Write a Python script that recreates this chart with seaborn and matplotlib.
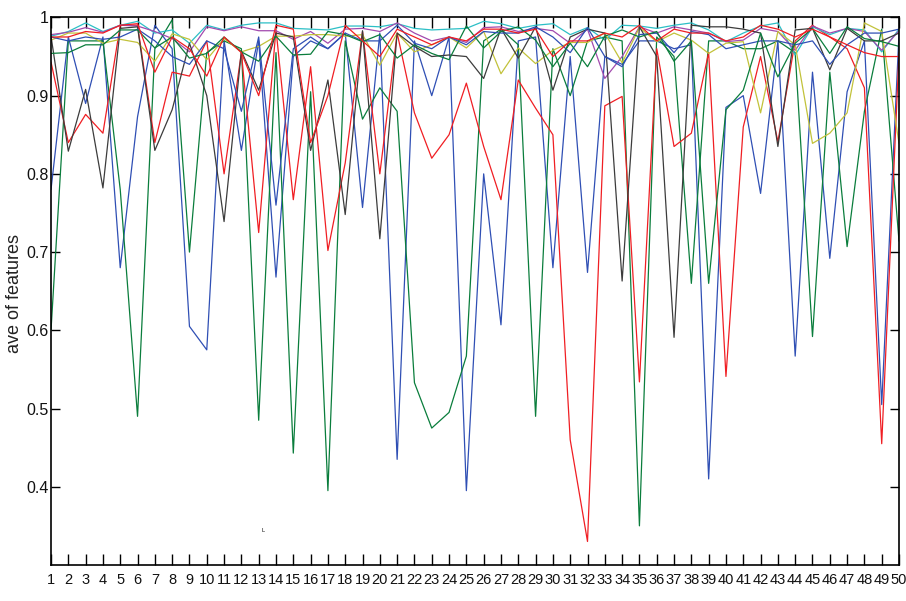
import numpy as np
import pandas as pd
import seaborn as sns
import matplotlib.pyplot as plt

sns.set_theme(style='ticks')
plt.rcParams['font.family'] = ['Liberation Sans', 'DejaVu Sans']

x = list(range(1, 51))

# one list per feature
blue1 = [0.78, 0.975, 0.89, 0.975, 0.68, 0.873, 0.99, 0.96, 0.605, 0.575,
         0.97, 0.83, 0.97, 0.668, 0.95, 0.97, 0.96, 0.98, 0.757, 0.98,
         0.435, 0.97, 0.90, 0.975, 0.395, 0.80, 0.607, 0.97, 0.975, 0.68,
         0.95, 0.674, 0.95, 0.94, 0.97, 0.97, 0.96, 0.965, 0.41, 0.885,
         0.90, 0.775, 0.97, 0.567, 0.93, 0.692, 0.905, 0.97, 0.505, 0.98]
green1 = [0.60, 0.97, 0.97, 0.97, 0.78, 0.49, 0.96, 0.997, 0.70, 0.955,
          0.97, 0.96, 0.485, 0.955, 0.443, 0.905, 0.395, 0.97, 0.87, 0.91,
          0.88, 0.533, 0.475, 0.495, 0.567, 0.97, 0.985, 0.965, 0.49, 0.96,
          0.90, 0.97, 0.975, 0.97, 0.35, 0.975, 0.95, 0.66, 0.97, 0.97,
          0.96, 0.96, 0.97, 0.955, 0.592, 0.93, 0.707, 0.88, 0.985, 0.714]
red1 = [0.943, 0.84, 0.876, 0.852, 0.99, 0.99, 0.84, 0.93, 0.925, 0.97,
        0.80, 0.955, 0.725, 0.985, 0.767, 0.937, 0.702, 0.814, 0.982, 0.80,
        0.98, 0.878, 0.82, 0.85, 0.916, 0.835, 0.767, 0.92, 0.884, 0.85,
        0.46, 0.33, 0.887, 0.899, 0.534, 0.96, 0.835, 0.852, 0.955, 0.541,
        0.86, 0.95, 0.841, 0.97, 0.99, 0.975, 0.96, 0.91, 0.455, 0.955]
cyan = [0.976, 0.982, 0.993, 0.982, 0.99, 0.995, 0.98, 0.984, 0.967, 0.99,
        0.984, 0.99, 0.993, 0.993, 0.986, 0.985, 0.984, 0.989, 0.989, 0.988,
        0.992, 0.986, 0.984, 0.985, 0.986, 0.995, 0.992, 0.986, 0.99, 0.992,
        0.978, 0.987, 0.971, 0.99, 0.989, 0.986, 0.99, 0.993, 0.984, 0.969,
        0.98, 0.989, 0.993, 0.952, 0.988, 0.978, 0.986, 0.984, 0.956, 0.985]
magenta = [0.978, 0.981, 0.987, 0.981, 0.99, 0.989, 0.982, 0.973, 0.956, 0.988,
           0.983, 0.988, 0.983, 0.983, 0.972, 0.982, 0.967, 0.985, 0.986, 0.982,
           0.993, 0.98, 0.97, 0.975, 0.968, 0.987, 0.988, 0.982, 0.986, 0.983,
           0.967, 0.985, 0.922, 0.95, 0.988, 0.98, 0.988, 0.984, 0.98, 0.969,
           0.971, 0.986, 0.982, 0.958, 0.989, 0.98, 0.986, 0.982, 0.958, 0.983]
yellow = [0.971, 0.98, 0.98, 0.967, 0.972, 0.968, 0.944, 0.979, 0.972, 0.946,
          0.973, 0.956, 0.963, 0.976, 0.976, 0.978, 0.978, 0.976, 0.978, 0.939,
          0.98, 0.956, 0.965, 0.975, 0.961, 0.982, 0.928, 0.961, 0.941, 0.958,
          0.968, 0.968, 0.98, 0.942, 0.987, 0.969, 0.98, 0.971, 0.954, 0.967,
          0.969, 0.878, 0.982, 0.965, 0.839, 0.852, 0.878, 0.993, 0.982, 0.839]
black = [0.976, 0.829, 0.908, 0.782, 0.986, 0.988, 0.83, 0.882, 0.967, 0.90,
         0.739, 0.957, 0.907, 0.98, 0.975, 0.83, 0.92, 0.748, 0.983, 0.717,
         0.98, 0.963, 0.95, 0.952, 0.95, 0.922, 0.986, 0.948, 0.988, 0.907,
         0.975, 0.985, 0.98, 0.663, 0.988, 0.95, 0.591, 0.99, 0.988, 0.988,
         0.985, 0.98, 0.835, 0.984, 0.986, 0.933, 0.986, 0.97, 0.97, 0.98]
blue2 = [0.975, 0.97, 0.975, 0.972, 0.975, 0.985, 0.97, 0.95, 0.94, 0.97,
         0.96, 0.88, 0.975, 0.76, 0.96, 0.975, 0.96, 0.98, 0.97, 0.97,
         0.99, 0.967, 0.96, 0.975, 0.965, 0.982, 0.98, 0.98, 0.988, 0.975,
         0.955, 0.987, 0.95, 0.937, 0.978, 0.98, 0.955, 0.982, 0.978, 0.96,
         0.965, 0.97, 0.97, 0.965, 0.97, 0.94, 0.965, 0.98, 0.98, 0.985]
green2 = [0.954, 0.955, 0.965, 0.965, 0.984, 0.984, 0.961, 0.975, 0.948, 0.954,
          0.975, 0.956, 0.944, 0.976, 0.952, 0.953, 0.982, 0.978, 0.969, 0.978,
          0.948, 0.965, 0.954, 0.946, 0.989, 0.961, 0.982, 0.988, 0.971, 0.937,
          0.967, 0.937, 0.976, 0.984, 0.975, 0.982, 0.944, 0.97, 0.66, 0.882,
          0.907, 0.98, 0.924, 0.967, 0.986, 0.954, 0.988, 0.973, 0.969, 0.963]
red2 = [0.975, 0.975, 0.982, 0.98, 0.99, 0.992, 0.93, 0.975, 0.96, 0.925,
        0.975, 0.955, 0.90, 0.99, 0.985, 0.84, 0.90, 0.99, 0.97, 0.95,
        0.985, 0.975, 0.965, 0.975, 0.97, 0.985, 0.985, 0.98, 0.985, 0.95,
        0.97, 0.97, 0.98, 0.975, 0.99, 0.97, 0.985, 0.98, 0.98, 0.97,
        0.975, 0.99, 0.985, 0.975, 0.985, 0.975, 0.965, 0.955, 0.95, 0.95]

series = {'b1': blue1, 'g1': green1, 'r1': red1, 'c': cyan, 'm': magenta,
          'y': yellow, 'k': black, 'b2': blue2, 'g2': green2, 'r2': red2}
colors = {'b1': '#2f4fb4', 'g1': '#0a7d3c', 'r1': '#f01e23', 'c': '#2cbfc6',
          'm': '#a24aae', 'y': '#c2c23a', 'k': '#3c3c3c', 'b2': '#2f4fb4',
          'g2': '#0a7d3c', 'r2': '#f01e23'}

df = pd.DataFrame([(k, xi, v) for k, vals in series.items() for xi, v in zip(x, vals)],
                  columns=['series', 'x', 'value'])

fig, ax = plt.subplots(figsize=(9.06, 6.01), dpi=100)
fig.subplots_adjust(left=0.0563, right=0.9923, top=0.971, bottom=0.06)

sns.lineplot(data=df, x='x', y='value', hue='series', palette=colors,
             legend=False, linewidth=0.9, ax=ax)

ax.set_xlim(1, 50)
ax.set_ylim(0.3, 1.0)
ax.set_xticks(x)
ax.set_xticklabels([str(i) for i in x])
yt = [0.4, 0.5, 0.6, 0.7, 0.8, 0.9, 1.0]
ax.set_yticks(yt)
ax.set_yticklabels(['0.4', '0.5', '0.6', '0.7', '0.8', '0.9', '1'])
ax.set_xlabel('')
ax.set_ylabel('ave of features', fontsize=13, color='#222222')
ax.yaxis.set_label_coords(-0.033, 0.495)
ax.tick_params(axis='x', direction='in', top=True, length=8, width=1,
               labelsize=10.5, pad=6, color='black', labelcolor='#111111')
ax.tick_params(axis='y', direction='in', right=True, length=6.5, width=1,
               labelsize=11.5, pad=1.5, color='black', labelcolor='#111111')
for s in ax.spines.values():
    s.set_visible(True)
    s.set_linewidth(1.2)
    s.set_color('black')

# small stray mark in the original
ax.text(13.15, 0.342, 'L', fontsize=4, color='black')

plt.savefig('out.png', dpi=100)
